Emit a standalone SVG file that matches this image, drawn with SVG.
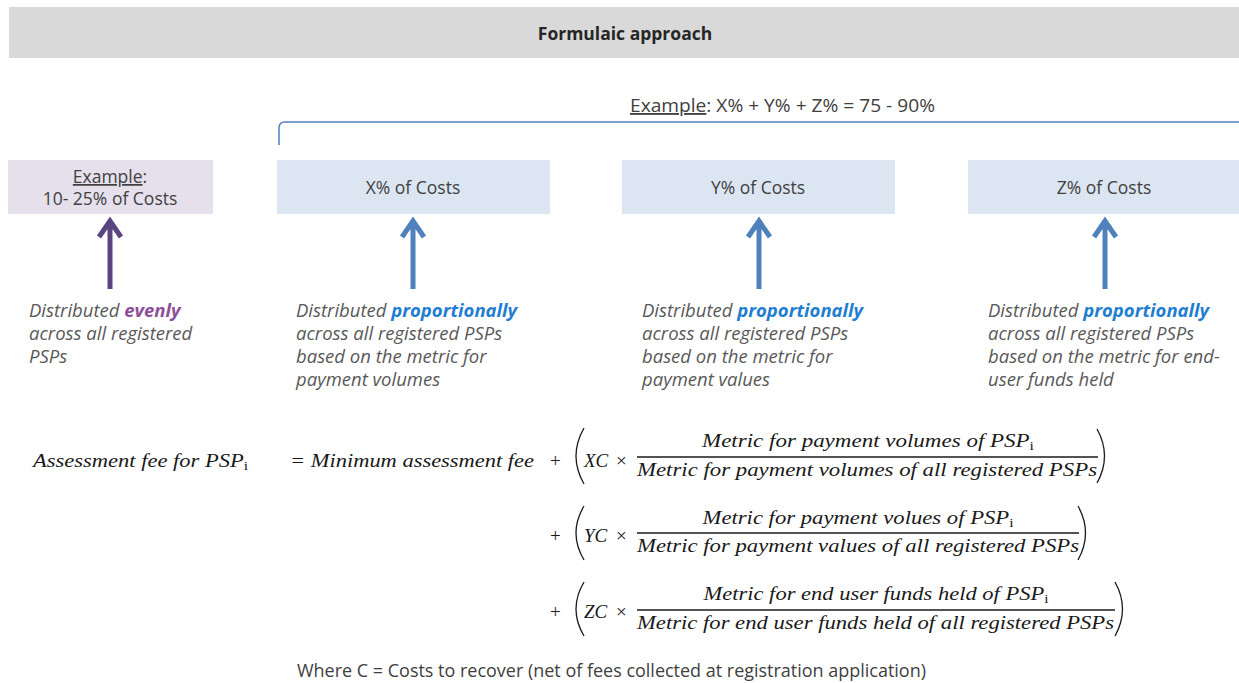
<svg xmlns="http://www.w3.org/2000/svg" width="1239" height="683" viewBox="0 0 1239 683">
<style>
.ui{font-family:"Open Sans","Noto Sans","Liberation Sans",sans-serif;}
.title{font-size:17.5px;font-weight:bold;fill:#262626;}
.box{font-size:17.5px;fill:#404040;}
.ex{font-size:18.5px;fill:#404040;}
.desc{font-size:18.5px;font-style:italic;fill:#595959;}
.ev{font-weight:bold;fill:#8e4f9a;}
.pr{font-weight:bold;fill:#1f7ed0;}
.m{font-family:"Liberation Serif","DejaVu Serif",serif;font-style:italic;font-size:19px;fill:#1a1a1a;}
.op{font-family:"Liberation Serif","DejaVu Serif",serif;font-size:19px;fill:#1a1a1a;}
.sub{font-size:13px;font-style:normal;}
.par{fill:none;stroke:#1a1a1a;stroke-width:1.3;}
.fl{stroke:#1a1a1a;stroke-width:1.3;}
.arrP{fill:none;stroke:#5b4580;stroke-width:5;}
.arrB{fill:none;stroke:#4f81bd;stroke-width:5;}
</style>
<rect x="0" y="0" width="1239" height="683" fill="#ffffff"/>
<g id="header">
<rect x="9" y="7" width="1230" height="51" fill="#d9d9d9"/>
<text class="ui title" x="625" y="40" text-anchor="middle">Formulaic approach</text>
</g>
<g id="bracket">
<path d="M279 145 V128 Q279 122 285 122 H1239" fill="none" stroke="#4f81bd" stroke-width="1.5"/>
<text class="ui ex" x="630" y="112" textLength="305" lengthAdjust="spacingAndGlyphs"><tspan text-decoration="underline">Example</tspan>: X% + Y% + Z% = 75 - 90%</text>
</g>
<g id="node-even">
<rect x="8" y="160" width="205" height="54" fill="#e5e0ec"/>
<text class="ui box" x="110" y="183" text-anchor="middle"><tspan text-decoration="underline">Example</tspan>:</text>
<text class="ui box" x="110" y="205" text-anchor="middle">10- 25% of Costs</text>
</g>
<g id="node-x">
<rect x="277" y="160" width="273" height="54" fill="#dce6f2"/>
<text class="ui box" x="413" y="194" text-anchor="middle">X% of Costs</text>
</g>
<g id="node-y">
<rect x="622" y="160" width="273" height="54" fill="#dce6f2"/>
<text class="ui box" x="758" y="194" text-anchor="middle">Y% of Costs</text>
</g>
<g id="node-z">
<rect x="968" y="160" width="271" height="54" fill="#dce6f2"/>
<text class="ui box" x="1104" y="194" text-anchor="middle">Z% of Costs</text>
</g>
<g id="connectors">
<path class="arrP" d="M110 289 V221 M99 237 L110 221 L121 237"/>
<path class="arrB" d="M413 289 V221 M402 237 L413 221 L424 237"/>
<path class="arrB" d="M759 289 V221 M748 237 L759 221 L770 237"/>
<path class="arrB" d="M1105 289 V221 M1094 237 L1105 221 L1116 237"/>
</g>
<g id="desc-even">
<text class="ui desc" x="29" y="317">Distributed <tspan class="ev">evenly</tspan></text>
<text class="ui desc" x="29" y="340">across all registered</text>
<text class="ui desc" x="29" y="363">PSPs</text>
</g>
<g id="desc-x">
<text class="ui desc" x="296" y="317">Distributed <tspan class="pr">proportionally</tspan></text>
<text class="ui desc" x="296" y="340">across all registered PSPs</text>
<text class="ui desc" x="296" y="363">based on the metric for</text>
<text class="ui desc" x="296" y="386">payment volumes</text>
</g>
<g id="desc-y">
<text class="ui desc" x="642" y="317">Distributed <tspan class="pr">proportionally</tspan></text>
<text class="ui desc" x="642" y="340">across all registered PSPs</text>
<text class="ui desc" x="642" y="363">based on the metric for</text>
<text class="ui desc" x="642" y="386">payment values</text>
</g>
<g id="desc-z">
<text class="ui desc" x="988" y="317">Distributed <tspan class="pr">proportionally</tspan></text>
<text class="ui desc" x="988" y="340">across all registered PSPs</text>
<text class="ui desc" x="988" y="363">based on the metric for end-</text>
<text class="ui desc" x="988" y="386">user funds held</text>
</g>
<g id="formula">
<text class="m" x="33" y="467" textLength="215" lengthAdjust="spacingAndGlyphs">Assessment fee for PSP<tspan class="sub" dy="3">i</tspan></text>
<text class="m" x="290" y="467" textLength="244" lengthAdjust="spacingAndGlyphs"><tspan class="op">= </tspan>Minimum assessment fee</text>
<!-- row 1 -->
<text class="op" x="550" y="467">+</text>
<path class="par" d="M584 428 Q568 456 584 484"/>
<text class="m" x="584" y="467">XC</text>
<text class="op" x="616" y="467">×</text>
<text class="m" x="868" y="447" text-anchor="middle" textLength="332" lengthAdjust="spacingAndGlyphs">Metric for payment volumes of PSP<tspan class="sub" dy="3">i</tspan></text>
<line class="fl" x1="637" y1="457" x2="1098" y2="457"/>
<text class="m" x="637" y="476" textLength="460" lengthAdjust="spacingAndGlyphs">Metric for payment volumes of all registered PSPs</text>
<path class="par" d="M1097 429 Q1112 456 1097 483"/>
<!-- row 2 -->
<text class="op" x="550" y="542">+</text>
<path class="par" d="M584 506 Q568 533 584 560"/>
<text class="m" x="584" y="542">YC</text>
<text class="op" x="616" y="542">×</text>
<text class="m" x="858" y="524" text-anchor="middle" textLength="311" lengthAdjust="spacingAndGlyphs">Metric for payment volues of PSP<tspan class="sub" dy="3">i</tspan></text>
<line class="fl" x1="637" y1="533" x2="1079" y2="533"/>
<text class="m" x="637" y="552" textLength="442" lengthAdjust="spacingAndGlyphs">Metric for payment values of all registered PSPs</text>
<path class="par" d="M1078 506 Q1093 533 1078 560"/>
<!-- row 3 -->
<text class="op" x="550" y="618">+</text>
<path class="par" d="M584 582 Q568 609 584 636"/>
<text class="m" x="584" y="618">ZC</text>
<text class="op" x="616" y="618">×</text>
<text class="m" x="876" y="600" text-anchor="middle" textLength="345" lengthAdjust="spacingAndGlyphs">Metric for end user funds held of PSP<tspan class="sub" dy="3">i</tspan></text>
<line class="fl" x1="637" y1="610" x2="1115" y2="610"/>
<text class="m" x="637" y="629" textLength="477" lengthAdjust="spacingAndGlyphs">Metric for end user funds held of all registered PSPs</text>
<path class="par" d="M1115 582 Q1130 609 1115 636"/>
</g>
<g id="footer">
<text class="ui box" x="297" y="677" fill="#262626" textLength="629" lengthAdjust="spacingAndGlyphs">Where C = Costs to recover (net of fees collected at registration application)</text>
</g>
</svg>
